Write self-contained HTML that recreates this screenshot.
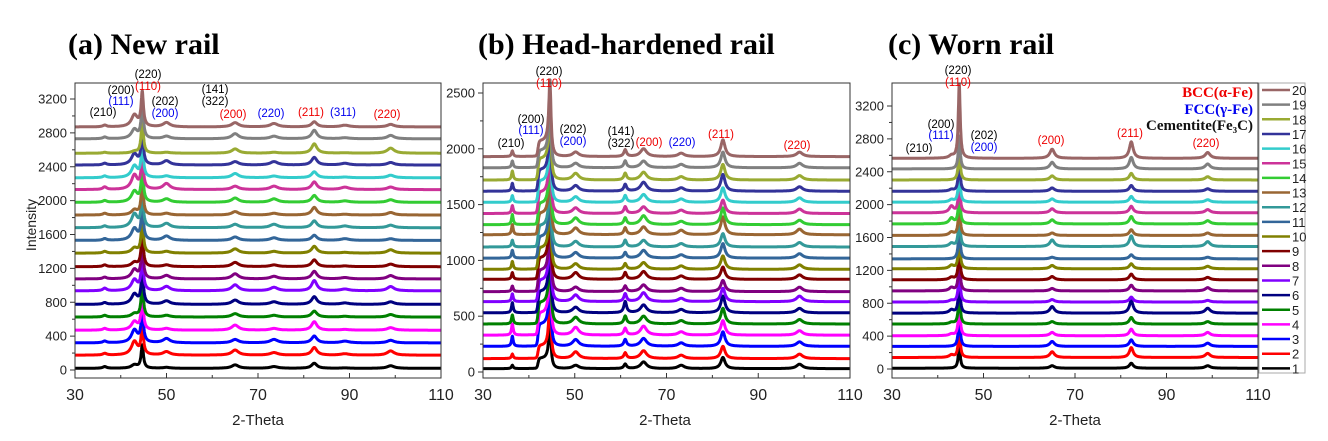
<!DOCTYPE html>
<html><head><meta charset="utf-8"><style>
body{margin:0;background:#fff}
svg{display:block}
text{font-family:"Liberation Sans",sans-serif}
.t{font-family:"Liberation Serif",serif;font-weight:bold;font-size:30px}
.lg{font-family:"Liberation Serif",serif;font-weight:bold;font-size:15px}
</style></head><body>
<svg id="fig" width="1328" height="441" viewBox="0 0 1328 441" xmlns="http://www.w3.org/2000/svg"></svg>
<script>
const colors=["#000000","#ff0000","#0000ff","#ff00ff","#008000","#000080","#8000ff","#800080","#800000","#808000","#336699","#339999","#996633","#33cc33","#cc3399","#33cccc","#333399","#99aa33","#808080","#996666"];
const offA=[20,175,320,470,625,775,935,1075,1220,1380,1530,1680,1830,1980,2130,2270,2420,2560,2730,2870];
const mainA=[270,330,380,380,380,380,380,380,380,380,380,380,380,380,380,380,380,380,400,400];
const fccA=[40,160,150,100,40,120,130,110,50,60,140,160,60,130,170,140,130,20,110,140];
const b211A=[60,90,80,100,70,90,120,90,80,80,60,80,90,80,90,70,90,110,100,60];
const b200A=[40,60,40,60,40,50,70,60,50,50,40,40,40,50,40,50,40,50,60,50];
const f200A=[10,40,50,20,20,40,50,40,20,20,50,50,20,40,70,20,50,10,30,50];
const f220A=[20,30,40,20,20,30,40,30,20,20,30,40,20,40,40,20,40,10,30,40];
const b220A=[30,50,30,30,30,30,50,40,30,40,20,30,30,30,30,30,30,60,40,30];
const s210A=[20,20,20,20,20,20,30,20,20,20,20,20,20,20,30,20,20,10,20,20];

const offB=[30,120,230,330,430,530,630,720,830,920,1020,1120,1230,1320,1420,1520,1620,1720,1830,1930];
const mainB=[380,500,530,560,560,560,560,560,560,560,560,560,560,560,560,560,560,560,560,620];
const fccB=[120,150,260,260,250,250,250,250,250,250,250,250,250,250,250,250,250,250,200,180];
const s210B=[30,40,90,100,80,90,70,50,60,70,70,60,90,90,70,60,70,80,60,50];
const s141B=[40,50,60,60,70,100,70,50,60,50,50,60,60,60,60,60,60,60,60,60];
const b211B=[100,110,130,130,140,150,120,100,110,120,130,120,160,150,120,130,150,140,140,150];
const b200B=[60,70,70,80,70,70,80,60,70,60,70,60,70,80,60,70,80,70,60,70];
const f200B=[30,60,60,70,60,50,60,40,60,50,50,50,60,60,50,50,50,60,40,40];
const f220B=[30,30,30,30,30,30,30,30,30,30,30,30,40,30,30,30,30,30,30,30];
const b220B=[40,40,40,40,40,40,50,40,40,40,40,40,50,40,40,40,40,40,40,40];

const offC=[10,140,275,405,547,680,815,950,1085,1220,1340,1490,1625,1765,1900,2030,2163,2300,2435,2564];
const mainC=[280,360,380,380,380,380,380,380,380,380,380,380,380,380,380,380,380,380,400,900];
const fccC=[0,30,0,20,20,40,20,40,30,40,0,40,40,70,80,30,20,0,0,30];
const b211C=[60,120,80,80,80,150,60,70,70,60,50,130,70,90,80,70,70,80,140,200];
const b200C=[30,70,60,40,30,80,30,30,40,40,20,80,30,50,50,40,40,50,80,110];
const b220C=[30,50,40,40,30,60,20,40,30,30,20,60,30,40,40,30,30,40,60,70];

const xTicks=[30,50,70,90,110];
const yTicksA=[0,400,800,1200,1600,2000,2400,2800,3200];
const yTicksB=[0,500,1000,1500,2000,2500];
const yTicksC=[0,400,800,1200,1600,2000,2400,2800,3200];

const NS="http://www.w3.org/2000/svg";
const svg=document.getElementById('fig');
function el(tag,attrs,parent,txt){const e=document.createElementNS(NS,tag);for(const k in attrs)e.setAttribute(k,attrs[k]);if(txt!==undefined)e.textContent=txt;(parent||svg).appendChild(e);return e;}
function pk(x,c,g){const d=(x-c)/g;return 1/(1+d*d);}
function step(x,a,b){return 1/(1+Math.exp(-(x-a)/0.12))*(1/(1+Math.exp((x-b)/0.12)));}

const panels=[
 {id:'a',x0:75,x1:441,y0:370,vmax:3200,py:99,ticks:yTicksA,title:'(a) New rail',tx:68,xl:258,
  f:(i,x)=>offA[i]+mainA[i]*pk(x,44.7,0.3)+fccA[i]*pk(x,43.0,0.8)+b211A[i]*pk(x,82.3,0.7)+b200A[i]*pk(x,65,0.9)+f200A[i]*pk(x,50,0.9)+f220A[i]*pk(x,73.5,1.0)+b220A[i]*pk(x,99,0.9)+s210A[i]*pk(x,36.5,0.5)+f200A[i]*0.4*pk(x,89,1.1)},
 {id:'b',x0:483,x1:850,y0:372,vmax:2500,py:93,ticks:yTicksB,title:'(b) Head-hardened rail',tx:478,xl:665,
  f:(i,x)=>offB[i]+mainB[i]*pk(x,44.6,0.28)+fccB[i]*0.75*step(x,42,44.6)+s210B[i]*pk(x,36.4,0.22)+s141B[i]*pk(x,61,0.35)+b211B[i]*pk(x,82.3,0.55)+b200B[i]*pk(x,65,0.8)+f200B[i]*pk(x,50.2,0.8)+f220B[i]*pk(x,73.2,0.8)+b220B[i]*pk(x,99,0.8)},
 {id:'c',x0:892,x1:1258,y0:369,vmax:3200,py:106,ticks:yTicksC,title:'(c) Worn rail',tx:888,xl:1075,
  f:(i,x)=>offC[i]+mainC[i]*pk(x,44.7,0.25)+fccC[i]*pk(x,43,0.6)+b211C[i]*pk(x,82.3,0.5)+b200C[i]*pk(x,65,0.6)+b220C[i]*pk(x,99,0.65)}
];

const labels={
 a:[["(220)",148,74,"#000"],["(110)",148,86,"#e00"],["(200)",121,90,"#000"],["(111)",121,101,"#00e"],["(210)",103,112,"#000"],["(202)",165,101,"#000"],["(200)",165,113,"#00e"],["(141)",215,89,"#000"],["(322)",215,101,"#000"],["(200)",233,114,"#e00"],["(220)",271,113,"#00e"],["(211)",311,112,"#e00"],["(311)",343,112,"#00e"],["(220)",387,114,"#e00"]],
 b:[["(220)",549,71,"#000"],["(110)",549,83,"#e00"],["(200)",531,119,"#000"],["(111)",531,130,"#00e"],["(210)",511,143,"#000"],["(202)",573,129,"#000"],["(200)",573,141,"#00e"],["(141)",621,131,"#000"],["(322)",621,143,"#000"],["(200)",649,142,"#e00"],["(220)",682,142,"#00e"],["(211)",721,134,"#e00"],["(220)",797,145,"#e00"]],
 c:[["(220)",958,70,"#000"],["(110)",958,82,"#e00"],["(200)",941,124,"#000"],["(111)",941,135,"#00e"],["(210)",919,148,"#000"],["(202)",984,135,"#000"],["(200)",984,147,"#00e"],["(200)",1051,140,"#e00"],["(211)",1130,133,"#e00"],["(220)",1206,143,"#e00"]]
};

panels.forEach(p=>{
 const g=el('g',{});
 
 
 const sc=(p.y0-p.py)/p.ticks[p.ticks.length-1];
 const X=v=>p.x0+(v-30)/80*(p.x1-p.x0);
 const Y=v=>p.y0-v*sc;
 const top=83,bot=378;
 el('rect',{x:p.x0,y:top-1,width:p.x1-p.x0,height:bot-top+1,fill:'#fff'},g);
 const cp=el('clipPath',{id:'clip'+p.id},g);
 el('rect',{x:p.x0,y:top-12,width:p.x1-p.x0,height:bot-top+12},cp);
 const lg=el('g',{'clip-path':'url(#clip'+p.id+')'},g);
 for(let i=0;i<20;i++){
  let d='';
  for(let k=0;k<=1600;k++){const x=30+k*0.05;d+=(k?'L':'M')+X(x).toFixed(1)+','+Y(p.f(i,x)).toFixed(1);}
  const path=el('path',{d:d,fill:'none',stroke:colors[i],'stroke-width':3,'stroke-linejoin':'round'},lg);
  
  
 }
 el('rect',{x:p.x0,y:top,width:p.x1-p.x0,height:bot-top,fill:'none',stroke:'#333','stroke-width':1},g);
 p.ticks.forEach((t,j)=>{
  el('line',{x1:p.x0-5,x2:p.x0,y1:Y(t),y2:Y(t),stroke:'#333'},g);
  if(j<p.ticks.length-1){const m=(t+p.ticks[j+1])/2;el('line',{x1:p.x0-3,x2:p.x0,y1:Y(m),y2:Y(m),stroke:'#333'},g);}
  const tl=el('text',{x:p.x0-8,y:Y(t)+4.5,'font-size':13,'text-anchor':'end',fill:'#222'},g,String(t));
  
  
 });
 for(let v=30;v<=110;v+=10){const big=xTicks.includes(v);el('line',{x1:X(v),x2:X(v),y1:bot,y2:bot-(big?5:3),stroke:'#333'},g);}
 xTicks.forEach(v=>{const tl=el('text',{x:X(v),y:400,'font-size':16,'text-anchor':'middle',fill:'#222'},g,String(v));
  
  });
 const xt=el('text',{x:p.xl,y:425,'font-size':15,'text-anchor':'middle',fill:'#222'},g,'2-Theta');
 
 
 const tt=el('text',{x:p.tx,y:54,class:'t'},g,p.title);
 
 
 labels[p.id].forEach(l=>{const t=el('text',{x:l[1],y:l[2]+4,'font-size':11.5,'text-anchor':'middle',fill:l[3]},g,l[0]);
  
  });
});
const yt=el('text',{x:0,y:0,'font-size':14,'text-anchor':'middle',fill:'#222',transform:'translate(36,225) rotate(-90)'},svg,'Intensity');


[["BCC(α-Fe)","#e00",97],["FCC(γ-Fe)","#00e",114],["Cementite(Fe₃C)","#111",130]].forEach(r=>{
 const t=el('text',{x:1253,y:r[2],class:'lg','text-anchor':'end',fill:r[1]},svg,r[0]);
 
 
});
const lgd=el('g',{});


el('rect',{x:1259,y:83,width:46,height:290,fill:'#fff',stroke:'#aaa'},lgd);
for(let k=20;k>=1;k--){
 const y=90+(20-k)*14.65;
 const ln=el('line',{x1:1262,x2:1290,y1:y,y2:y,stroke:colors[k-1],'stroke-width':2.5},lgd);
 
 
 const t=el('text',{x:1292,y:y+5,'font-size':13,fill:'#222'},lgd,String(k));
 
 
}
</script>
</body></html>
